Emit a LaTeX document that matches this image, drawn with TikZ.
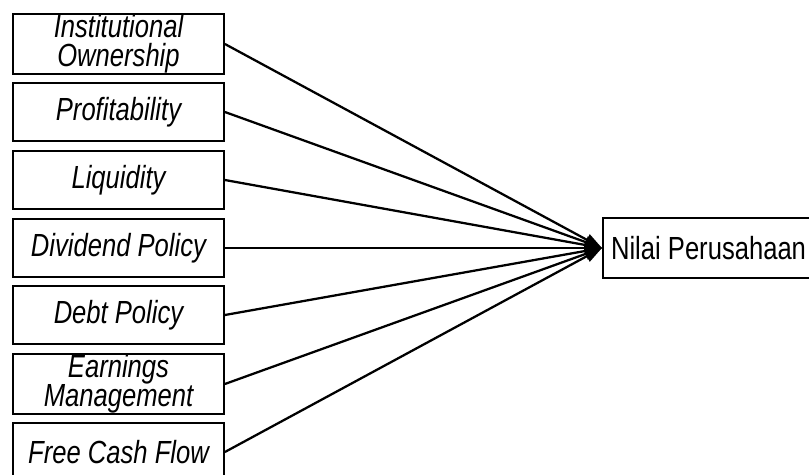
\documentclass[tikz,border=0pt]{standalone}
\usepackage{fontspec}
\setmainfont{Liberation Sans}
\newfontfamily\narrowsans[FakeStretch=0.8]{Liberation Sans}
\usetikzlibrary{arrows.meta}

\def\xa{118.5}
\def\xb{602}

\begin{document}
\begin{tikzpicture}[x=0.75pt, y=-0.75pt,
    factorbox/.style={rectangle, draw, line width=1.6pt, minimum width=158pt,
      minimum height=44pt, inner sep=0pt, align=center,
      font=\narrowsans\fontsize{24}{22}\selectfont\itshape},
    link/.style={line width=1.7pt, -{Triangle[length=13pt,width=9pt]}}]
    \useasboundingbox (0,0) rectangle (809,474);

    \node[factorbox] (ownership)     at (\xa,  44)  {Institutional\\Ownership};
    \node[factorbox] (profitability) at (\xa, 112)  {Profitability};
    \node[factorbox] (liquidity)     at (\xa, 180)  {Liquidity};
    \node[factorbox] (dividend)      at (\xa, 248)  {Dividend Policy};
    \node[factorbox] (debt)          at (\xa, 315)  {Debt Policy};
    \node[factorbox] (earnings)      at (\xa, 384)  {Earnings\\Management};
    \node[factorbox] (cashflow)      at (\xa, 452)  {Free Cash Flow};

    \node[rectangle, draw, line width=1.6pt, minimum height=45pt, inner sep=6pt,
      anchor=west, font=\narrowsans\fontsize{24}{22}\selectfont] (nilai) at (\xb, 248)
      {Nilai Perusahaan};

    \draw[link] (ownership.east)     -- (nilai.west);
    \draw[link] (profitability.east) -- (nilai.west);
    \draw[link] (liquidity.east)     -- (nilai.west);
    \draw[link] (dividend.east)      -- (nilai.west);
    \draw[link] (debt.east)          -- (nilai.west);
    \draw[link] (earnings.east)      -- (nilai.west);
    \draw[link] (cashflow.east)      -- (nilai.west);
\end{tikzpicture}
\end{document}
